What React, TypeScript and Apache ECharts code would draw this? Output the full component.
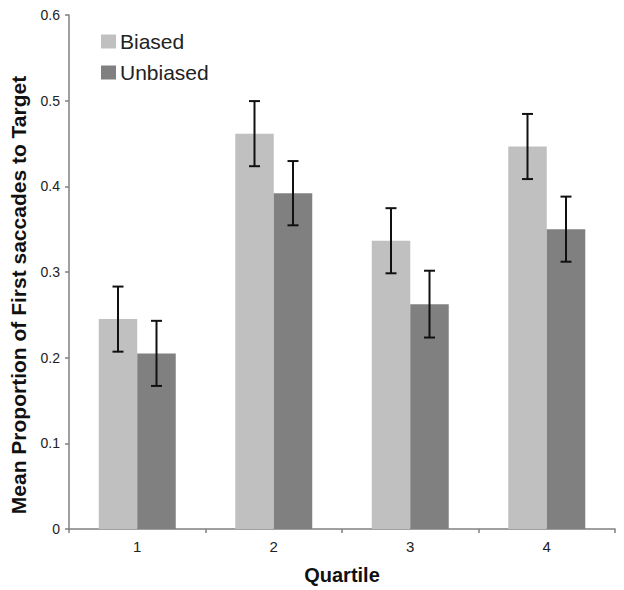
import React, { useEffect, useRef } from "react";
import * as echarts from "echarts";

const quartiles = ["1", "2", "3", "4"];
const biased = [0.245, 0.4615, 0.3365, 0.4465];
const biasedErr = [0.038, 0.038, 0.038, 0.038];
const unbiased = [0.205, 0.392, 0.2625, 0.35];
const unbiasedErr = [0.038, 0.0375, 0.039, 0.038];
const yTicks = { min: 0, max: 0.6, interval: 0.1 };

const FONT = "'Liberation Sans', Arial, sans-serif";
const BAR_W = 38.5;

function errData(vals: number[], errs: number[]) {
  return vals.map((v, i) => [i, v - errs[i], v + errs[i]]);
}

function errSeries(name: string, vals: number[], errs: number[], offset: number) {
  return {
    type: "custom",
    name: name + " error",
    data: errData(vals, errs),
    encode: { x: 0, y: [1, 2] },
    z: 10,
    renderItem: (params: any, api: any) => {
      const cx = api.coord([api.value(0), 0])[0] + offset;
      const hi = api.coord([api.value(0), api.value(2)])[1];
      const lo = api.coord([api.value(0), api.value(1)])[1];
      const cap = 5.5;
      const style = { stroke: "#111", lineWidth: 2 };
      return {
        type: "group",
        children: [
          { type: "line", shape: { x1: cx, y1: hi, x2: cx, y2: lo }, style },
          { type: "line", shape: { x1: cx - cap, y1: hi, x2: cx + cap, y2: hi }, style },
          { type: "line", shape: { x1: cx - cap, y1: lo, x2: cx + cap, y2: lo }, style },
        ],
      };
    },
  };
}

export default function App() {
  const ref = useRef<HTMLDivElement>(null);
  useEffect(() => {
    if (!ref.current) return;
    const chart = echarts.init(ref.current, undefined, { renderer: "svg" });
    const axisColor = "#808080";
    chart.setOption({
      animation: false,
      backgroundColor: "#ffffff",
      textStyle: { fontFamily: FONT },
      grid: { left: 69, right: 9, top: 15, bottom: 53.3 },
      legend: {
        orient: "vertical",
        left: 96,
        top: 26,
        icon: "rect",
        itemWidth: 15,
        itemHeight: 14,
        itemGap: 10,
        data: ["Biased", "Unbiased"],
        textStyle: { fontSize: 21, color: "#222", fontFamily: FONT, padding: [0, 0, 0, -1] },
      },
      xAxis: {
        type: "category",
        data: quartiles,
        name: "Quartile",
        nameLocation: "middle",
        nameGap: 36,
        nameTextStyle: { fontSize: 20, fontWeight: "bold", color: "#111", fontFamily: FONT },
        axisLine: { lineStyle: { color: axisColor, width: 1.5 } },
        axisTick: { show: true, length: 4, lineStyle: { color: axisColor, width: 1.5 } },
        axisLabel: { fontSize: 15, color: "#222", margin: 10, fontFamily: FONT },
      },
      yAxis: {
        type: "value",
        min: yTicks.min,
        max: yTicks.max,
        interval: yTicks.interval,
        name: "Mean Proportion of First saccades to Target",
        nameLocation: "middle",
        nameGap: 40,
        nameTextStyle: {
          fontSize: 21,
          fontWeight: "bold",
          color: "#111",
          fontFamily: FONT,
          padding: [0, 46, 0, 0],
        },
        axisLine: { show: true, lineStyle: { color: axisColor, width: 1.5 } },
        axisTick: { show: true, length: 4, lineStyle: { color: axisColor, width: 1.5 } },
        axisLabel: { fontSize: 14, color: "#222", margin: 9, fontFamily: FONT },
        splitLine: { show: false },
      },
      series: [
        {
          type: "bar",
          name: "Biased",
          data: biased,
          barWidth: BAR_W,
          barGap: "0%",
          itemStyle: { color: "#c0c0c0" },
        },
        {
          type: "bar",
          name: "Unbiased",
          data: unbiased,
          barWidth: BAR_W,
          barGap: "0%",
          itemStyle: { color: "#808080" },
        },
        errSeries("Biased", biased, biasedErr, -BAR_W / 2),
        errSeries("Unbiased", unbiased, unbiasedErr, BAR_W / 2),
      ],
    });
    return () => chart.dispose();
  }, []);
  return <div ref={ref} style={{ width: 624, height: 590, position: "absolute", left: 0, top: 0 }} />;
}
